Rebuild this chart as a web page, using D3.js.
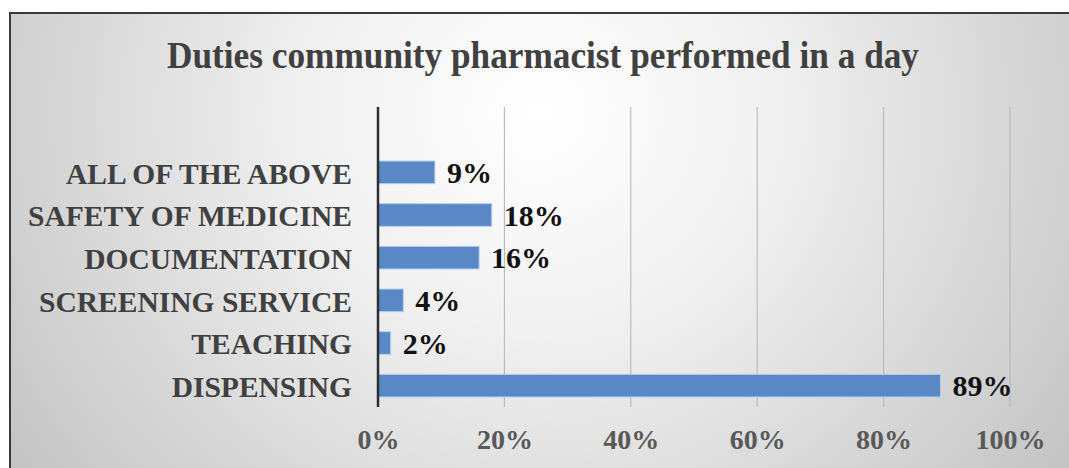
<!DOCTYPE html>
<html>
<head>
<meta charset="utf-8">
<script src="https://cdn.jsdelivr.net/npm/d3@7"></script>
<style>
  body { margin: 0; background: #fff; }
  svg { display: block; }
  text { font-family: "Liberation Serif", "Times New Roman", serif; font-weight: bold; }
</style>
</head>
<body>
<svg id="chart"></svg>
<script>
// chart data, top to bottom
const categories = ["ALL OF THE ABOVE", "SAFETY OF MEDICINE", "DOCUMENTATION", "SCREENING SERVICE", "TEACHING", "DISPENSING"];
const values = [9, 18, 16, 4, 2, 89];
const tickValues = [0, 20, 40, 60, 80, 100];
const title = "Duties community pharmacist performed in a day";

const width = 1069, height = 468;
const svg = d3.select('#chart')
    .attr('width', width)
    .attr('height', height);

// soft radial background like the Excel chart area
const defs = svg.append('defs');
const grad = defs.append('radialGradient')
    .attr('id', 'bg')
    .attr('cx', '50%').attr('cy', '22%')
    .attr('r', '62%')
    .attr('gradientTransform', 'translate(0.5,0.22) scale(1,2.2) translate(-0.5,-0.22)');
grad.append('stop').attr('offset', '0%').attr('stop-color', '#ffffff');
grad.append('stop').attr('offset', '35%').attr('stop-color', '#f1f1f1');
grad.append('stop').attr('offset', '100%').attr('stop-color', '#c3c3c3');

svg.append('rect')
    .attr('x', 10).attr('y', 13)
    .attr('width', width - 10).attr('height', height - 13)
    .attr('fill', 'url(#bg)');

// frame (top and left edges visible)
svg.append('path')
    .attr('d', `M10,${height} L10,13 L${width},13`)
    .attr('fill', 'none')
    .attr('stroke', '#3a3a3a')
    .attr('stroke-width', 2);

// title, narrow and tall like the original
svg.append('text')
    .attr('x', 543)
    .attr('y', 68)
    .attr('text-anchor', 'middle')
    .attr('textLength', 752)
    .attr('lengthAdjust', 'spacingAndGlyphs')
    .style('font-size', '37px')
    .style('fill', '#404040')
    .text(title);

const plotTop = 107, plotBottom = 407;
const xScale = d3.scaleLinear()
    .domain([0, 100])
    .range([378, 1010]);

const yScale = d3.scaleBand()
    .domain(categories)
    .range([151, plotBottom])
    .paddingInner(0.47)
    .paddingOuter(0.235);

// vertical gridlines
svg.append('g')
    .selectAll('line')
    .data(tickValues.filter(d => d > 0))
    .join('line')
    .attr('x1', d => xScale(d))
    .attr('x2', d => xScale(d))
    .attr('y1', plotTop)
    .attr('y2', plotBottom)
    .attr('stroke', '#b4b4b4')
    .attr('stroke-width', 1);

// x axis labels
const xAxis = d3.axisBottom(xScale)
    .tickValues(tickValues)
    .tickFormat(d => d + '%')
    .tickSize(0)
    .tickPadding(0);
const xAxisG = svg.append('g')
    .attr('transform', `translate(0, ${plotBottom + 22})`)
    .call(xAxis);
xAxisG.select('.domain').remove();
xAxisG.selectAll('text')
    .attr('dy', '0.72em')
    .style('font-family', '"Liberation Serif", "Times New Roman", serif')
    .style('font-size', '28px')
    .style('fill', '#595959');

// bars
svg.append('g')
    .selectAll('rect')
    .data(values)
    .join('rect')
    .attr('x', xScale(0))
    .attr('y', (d, i) => yScale(categories[i]))
    .attr('width', d => xScale(d) - xScale(0))
    .attr('height', yScale.bandwidth())
    .attr('fill', '#5a88c6')
    .attr('stroke', '#b5cdea')
    .attr('stroke-width', 1);

// value labels
svg.append('g')
    .selectAll('text')
    .data(values)
    .join('text')
    .attr('x', d => xScale(d) + 12)
    .attr('y', (d, i) => yScale(categories[i]) + yScale.bandwidth() / 2)
    .attr('dy', '0.36em')
    .style('font-size', '30px')
    .style('fill', '#111')
    .text(d => d + '%');

// y axis with category labels
const yAxis = d3.axisLeft(yScale).tickSize(0).tickPadding(26);
const yAxisG = svg.append('g')
    .attr('transform', `translate(${xScale(0)}, 0)`)
    .call(yAxis);
yAxisG.select('.domain').remove();
yAxisG.selectAll('text')
    .attr('dy', '0.38em')
    .style('font-family', '"Liberation Serif", "Times New Roman", serif')
    .style('font-size', '29.5px')
    .style('fill', '#404040');

svg.append('line')
    .attr('x1', xScale(0)).attr('x2', xScale(0))
    .attr('y1', plotTop).attr('y2', plotBottom)
    .attr('stroke', '#2f2f2f')
    .attr('stroke-width', 2.5);
</script>
</body>
</html>
